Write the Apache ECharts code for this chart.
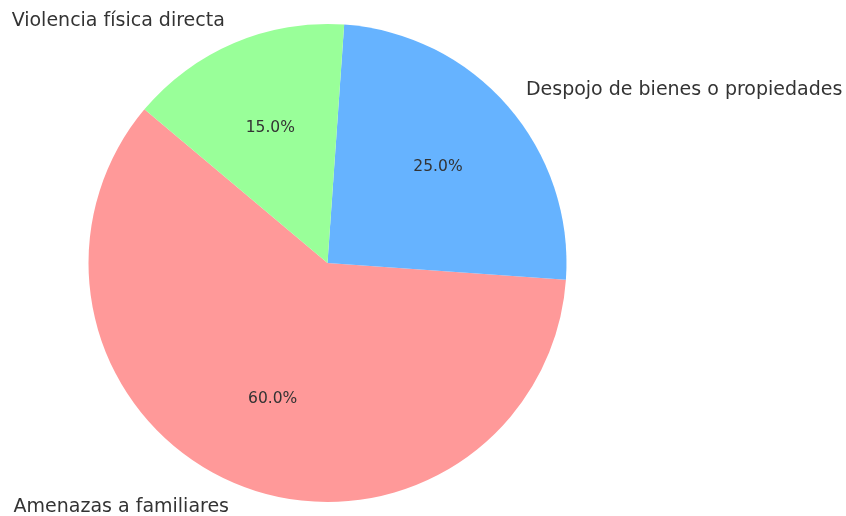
<!DOCTYPE html>
<html>
<head>
<meta charset="utf-8">
<script src="https://cdn.jsdelivr.net/npm/echarts@6/dist/echarts.min.js"></script>
<style>
  html, body { margin: 0; padding: 0; background: #fff; }
  #chart { width: 846px; height: 516px; }
</style>
</head>
<body>
<div id="chart"></div>
<script>
// Slices, counterclockwise from the start angle
const categories = ['Amenazas a familiares', 'Despojo de bienes o propiedades', 'Violencia física directa'];
const shares = [60, 25, 15];
const colors = ['#ff9999', '#66b3ff', '#99ff99'];

const R = 239;
const center = [327.5, 263];
const font = 'DejaVu Sans, sans-serif';

const data = categories.map((name, i) => ({
    name: name,
    value: shares[i],
    itemStyle: { color: colors[i] }
}));

const chart = echarts.init(document.getElementById('chart'), null, { renderer: 'canvas' });

chart.setOption({
    animation: false,
    series: [
        // visible pie + outer category labels (at 1.1 R)
        {
            type: 'pie',
            center: center,
            radius: [0, R],
            startAngle: 140,
            clockwise: false,
            avoidLabelOverlap: false,
            silent: true,
            data: data,
            label: {
                show: true,
                position: 'outside',
                formatter: '{b}',
                color: '#333',
                fontFamily: font,
                fontSize: 19,
                distanceToLabelLine: 0
            },
            labelLine: {
                show: false,
                length: R * 0.1,
                length2: 0
            }
        },
        // transparent helper pie, inside labels land at 0.6 R
        {
            type: 'pie',
            center: center,
            radius: [0, R * 1.2],
            startAngle: 140,
            clockwise: false,
            silent: true,
            data: data.map(d => ({ name: d.name, value: d.value, itemStyle: { color: 'rgba(0,0,0,0)' } })),
            label: {
                show: true,
                position: 'inside',
                formatter: p => p.value.toFixed(1) + '%',
                color: '#333',
                fontFamily: font,
                fontSize: 15.5
            },
            labelLine: { show: false }
        }
    ]
});
</script>
</body>
</html>
